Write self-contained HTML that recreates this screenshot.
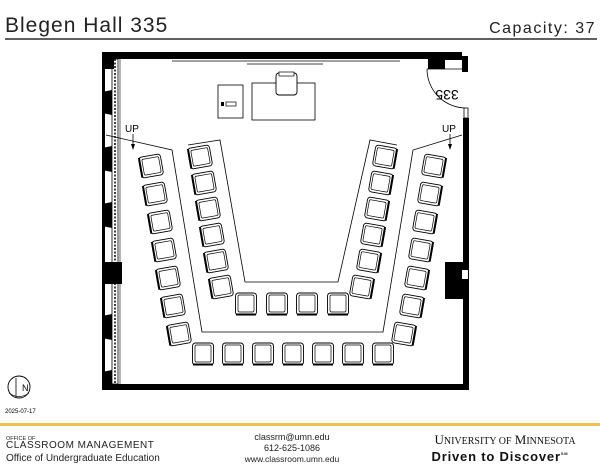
<!DOCTYPE html>
<html><head><style>
body{margin:0;background:#fff;width:600px;height:464px;overflow:hidden;font-family:"Liberation Sans",sans-serif;}
svg{position:absolute;left:0;top:0}
</style></head><body>
<svg width="600" height="464" viewBox="0 0 600 464">
<defs>
<g id="ch"><rect x="-10.5" y="-11" width="21" height="22" rx="3" fill="#fff" stroke="#000" stroke-width="0.9"/><rect x="-8" y="-9" width="16" height="17" rx="1.5" fill="none" stroke="#000" stroke-width="0.7"/><line x1="-10" y1="10.5" x2="10" y2="10.5" stroke="#000" stroke-width="2"/></g>
</defs>
<text x="5" y="32" font-size="21" fill="#222" letter-spacing="1">Blegen  Hall  335</text>
<text x="596" y="33" font-size="16" fill="#222" text-anchor="end" letter-spacing="1.5">Capacity:  37</text>
<line x1="5" y1="39" x2="597" y2="39" stroke="#000" stroke-width="1.2"/>
<!-- walls -->
<rect x="102" y="52" width="326" height="7" fill="#000"/>
<rect x="428" y="52" width="17" height="17" fill="#000"/>
<rect x="445" y="52" width="17" height="8" fill="#000"/>
<rect x="462" y="56" width="6" height="16" fill="#000"/>
<path d="M427 69 A39 39 0 0 0 466 108" fill="none" stroke="#000" stroke-width="0.8"/>
<line x1="427" y1="69" x2="466" y2="69" stroke="#000" stroke-width="0.8"/>
<text x="447" y="80" font-size="14" text-anchor="middle" transform="rotate(180 447 85)" fill="#000">335</text>
<rect x="464" y="108" width="4" height="10" fill="#fff" stroke="#000" stroke-width="0.8"/>
<rect x="463" y="118" width="6" height="272" fill="#000"/>
<rect x="445" y="262" width="18" height="37" fill="#000"/>
<rect x="462" y="270" width="6" height="9" fill="#fff"/>
<rect x="102" y="384" width="367" height="6" fill="#000"/>
<rect x="102" y="52" width="3" height="338" fill="#000"/>
<rect x="112" y="59" width="6" height="325" fill="#fff" stroke="#000" stroke-width="0.8"/>
<line x1="115" y1="59" x2="115" y2="384" stroke="#000" stroke-width="1.5" stroke-dasharray="2,1.5"/>
<line x1="120" y1="59" x2="120" y2="384" stroke="#000" stroke-width="0.6"/>
<rect x="102" y="59" width="12" height="10" fill="#000"/>
<path d="M102 92 L112 90 L112 115 L102 113Z" fill="#000"/>
<path d="M102 148 L112 146 L112 172 L102 170Z" fill="#000"/>
<path d="M102 204 L112 202 L112 228 L102 226Z" fill="#000"/>
<rect x="102" y="262" width="20" height="22" fill="#000"/>
<path d="M102 316 L112 314 L112 340 L102 338Z" fill="#000"/>
<path d="M102 372 L112 370 L112 384 L102 384Z" fill="#000"/>
<!-- whiteboard -->
<line x1="172" y1="61" x2="400" y2="61" stroke="#000" stroke-width="0.8"/>
<line x1="247" y1="64" x2="323" y2="64" stroke="#000" stroke-width="0.8"/>
<!-- desk -->
<rect x="218" y="85" width="25" height="33" fill="none" stroke="#000" stroke-width="0.8"/>
<rect x="221" y="102" width="3" height="4" fill="#000"/>
<rect x="226" y="102" width="10" height="4" fill="none" stroke="#000" stroke-width="0.7"/>
<rect x="252" y="83" width="63" height="37" fill="none" stroke="#000" stroke-width="0.8"/>
<rect x="276" y="73" width="21" height="22" rx="3" fill="#fff" stroke="#000" stroke-width="0.9"/>
<rect x="279" y="72" width="15" height="4" fill="#fff" stroke="#000" stroke-width="0.7"/>
<!-- UP -->
<text x="125" y="132" font-size="10">UP</text>
<line x1="133" y1="134" x2="133" y2="148" stroke="#000" stroke-width="0.8"/><path d="M131 144 L133 150 L135 144Z"/>
<text x="442" y="132" font-size="10">UP</text>
<line x1="450" y1="134" x2="450" y2="148" stroke="#000" stroke-width="0.8"/><path d="M448 144 L450 150 L452 144Z"/>
<!-- risers -->
<g fill="none" stroke="#000" stroke-width="0.8">
<path d="M106 135 L172 150 L202 332 L383 332 L413 150 L462 135"/>
<path d="M188 145 L220 140 L245 282 L338 282 L370 140 L397 145"/>
</g>
<g>
<use href="#ch" transform="translate(151,166) rotate(80)"/>
<use href="#ch" transform="translate(155,194) rotate(80)"/>
<use href="#ch" transform="translate(160,222) rotate(80)"/>
<use href="#ch" transform="translate(164,250) rotate(80)"/>
<use href="#ch" transform="translate(168,278) rotate(80)"/>
<use href="#ch" transform="translate(173,306) rotate(80)"/>
<use href="#ch" transform="translate(179,334) rotate(80)"/>
<use href="#ch" transform="translate(200,157) rotate(80)"/>
<use href="#ch" transform="translate(204,183) rotate(80)"/>
<use href="#ch" transform="translate(208,209) rotate(80)"/>
<use href="#ch" transform="translate(212,235) rotate(80)"/>
<use href="#ch" transform="translate(216,261) rotate(80)"/>
<use href="#ch" transform="translate(221,287) rotate(80)"/>
<use href="#ch" transform="translate(434,166) rotate(-80)"/>
<use href="#ch" transform="translate(430,194) rotate(-80)"/>
<use href="#ch" transform="translate(425,222) rotate(-80)"/>
<use href="#ch" transform="translate(421,250) rotate(-80)"/>
<use href="#ch" transform="translate(417,278) rotate(-80)"/>
<use href="#ch" transform="translate(412,306) rotate(-80)"/>
<use href="#ch" transform="translate(404,334) rotate(-80)"/>
<use href="#ch" transform="translate(385,157) rotate(-80)"/>
<use href="#ch" transform="translate(381,183) rotate(-80)"/>
<use href="#ch" transform="translate(377,209) rotate(-80)"/>
<use href="#ch" transform="translate(373,235) rotate(-80)"/>
<use href="#ch" transform="translate(369,261) rotate(-80)"/>
<use href="#ch" transform="translate(362,287) rotate(-80)"/>
<use href="#ch" transform="translate(246,304)"/>
<use href="#ch" transform="translate(277,304)"/>
<use href="#ch" transform="translate(307,304)"/>
<use href="#ch" transform="translate(338,304)"/>
<use href="#ch" transform="translate(203,354)"/>
<use href="#ch" transform="translate(233,354)"/>
<use href="#ch" transform="translate(263,354)"/>
<use href="#ch" transform="translate(293,354)"/>
<use href="#ch" transform="translate(323,354)"/>
<use href="#ch" transform="translate(353,354)"/>
<use href="#ch" transform="translate(383,354)"/>
</g>
<!-- compass -->
<circle cx="19" cy="387" r="11" fill="none" stroke="#000" stroke-width="0.9"/>
<line x1="16" y1="378" x2="16" y2="398" stroke="#000" stroke-width="0.8"/>
<text x="22" y="391" font-size="9">N</text>
<path d="M9 393 Q19 400 29 393" fill="none" stroke="#000" stroke-width="0.7"/>
<text x="5" y="413" font-size="6">2025-07-17</text>
<rect x="0" y="423" width="600" height="3" fill="#f0c050"/>
<text x="6" y="440" font-size="5.5" fill="#222">OFFICE OF</text>
<text x="6" y="448" font-size="10" fill="#222" letter-spacing="0.5">CLASSROOM MANAGEMENT</text>
<text x="6" y="461" font-size="10" fill="#222">Office of Undergraduate Education</text>
<text x="292" y="440" font-size="9" fill="#222" text-anchor="middle">classrm@umn.edu</text>
<text x="292" y="451" font-size="9" fill="#222" text-anchor="middle">612-625-1086</text>
<text x="292" y="462" font-size="8.5" fill="#222" text-anchor="middle">www.classroom.umn.edu</text>
<text x="505" y="444" font-family="Liberation Serif,serif" font-size="13" fill="#111" text-anchor="middle">U<tspan font-size="10">NIVERSITY OF</tspan> M<tspan font-size="10">INNESOTA</tspan></text>
<text x="500" y="461" font-size="13" font-weight="bold" fill="#111" text-anchor="middle" letter-spacing="0.8">Driven to Discover<tspan font-size="4" dy="-6">SM</tspan></text>
</svg>
</body></html>
